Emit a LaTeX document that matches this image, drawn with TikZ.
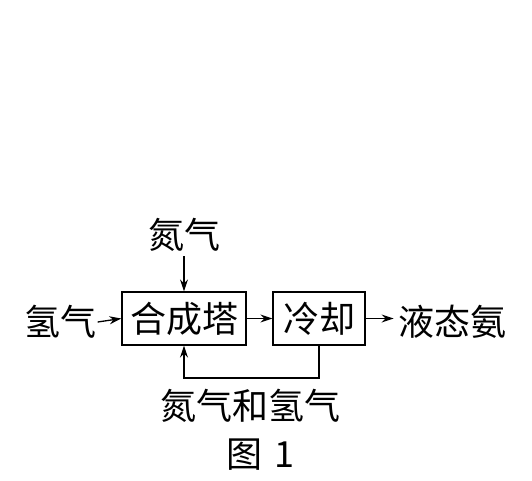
\documentclass[tikz,border=0pt]{standalone}
\usepackage{fontspec}
\newfontfamily\cjk{Noto Sans CJK SC}
\usetikzlibrary{arrows.meta,positioning}
\begin{document}
\begin{tikzpicture}[x=1pt,y=-1pt,
  line width=1.3pt,
  >={Stealth[length=12pt,width=8pt]},
  txt/.style={font=\cjk\fontsize{36}{40}\selectfont, inner sep=0pt},
  unit/.style={draw, txt, minimum width=124pt, minimum height=53pt}]
\useasboundingbox (0,0) rectangle (532,480);
\node[unit] (tower) at (184,318.5) {合成塔};
\node[unit, minimum width=92pt] (cool) at (319,318.5) {冷却};
\node[txt] (n2) at (184,235) {氮气};
\node[txt] (h2) at (60,322) {氢气};
\node[txt] (nh3) at (452,322) {液态氨};
\node[txt] (mix) at (250,406) {氮气和氢气};
\node[txt] (cap) at (260,455) {图\hspace{12pt}1};
\coordinate (turn) at (319,378);
\draw [->] (n2.south) ++(0,4) -- (tower.north);
\draw [->] (h2.east) ++(1,0) -- (tower.west);
\draw [->] (tower.east) -- (cool.west);
\draw [->] (cool.east) -- ++(28,0);
\draw [->] (cool.south) -- (turn) -| (tower.south);
\end{tikzpicture}
\end{document}
